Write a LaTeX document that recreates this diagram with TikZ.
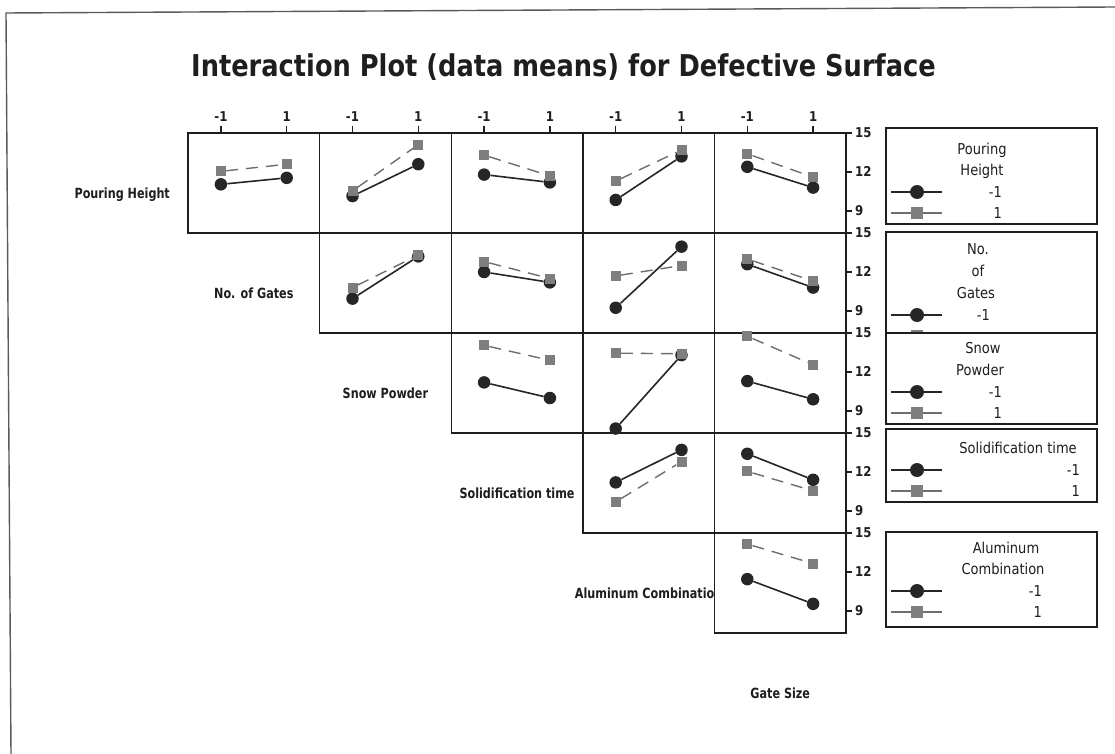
\documentclass[tikz,border=0pt]{standalone}
\usepackage{fontspec}
\newfontfamily\tfont[FakeStretch=0.8]{DejaVu Sans}
\newfontfamily\hfont[FakeStretch=0.856]{DejaVu Sans}
\newfontfamily\lfont[FakeStretch=0.87]{DejaVu Sans}
\definecolor{ink}{HTML}{1E1E1E}
\definecolor{cdark}{HTML}{262626}
\definecolor{sgray}{HTML}{7E7E7E}
\definecolor{dgray}{HTML}{6E6E6E}
\definecolor{fgray}{HTML}{5A5A5A}
\newcommand{\ipl}[6]{%
  \pgfmathsetmacro{\ipXa}{188+(#2-1)*131.6+32.9}%
  \pgfmathsetmacro{\ipXb}{188+(#2-1)*131.6+98.7}%
  \pgfmathsetmacro{\ipYt}{133+(#1-1)*100}%
  \pgfmathsetmacro{\ipYca}{\ipYt+(15-#3)*13}%
  \pgfmathsetmacro{\ipYcb}{\ipYt+(15-#4)*13}%
  \pgfmathsetmacro{\ipYsa}{\ipYt+(15-#5)*13}%
  \pgfmathsetmacro{\ipYsb}{\ipYt+(15-#6)*13}%
  \node[cmark] (c#1#2a) at (\ipXa,\ipYca) {};
  \node[cmark] (c#1#2b) at (\ipXb,\ipYcb) {};
  \draw[cline] (c#1#2a) -- (c#1#2b);
  \node[smark] (s#1#2a) at (\ipXa,\ipYsa) {};
  \node[smark] (s#1#2b) at (\ipXb,\ipYsb) {};
  \draw[sline] (s#1#2a) -- (s#1#2b);
}
% legend symbol rows: #1 name, #2 y of -1 row, #3 y of 1 row
\newcommand{\lgdsym}[3]{%
  \coordinate (#1ca) at (891,#2); \coordinate (#1cb) at (942,#2);
  \draw[cline] (#1ca) -- (#1cb);
  \node[cmarkL] (#1cm) at (917,#2) {};
  \coordinate (#1sa) at (891,#3); \coordinate (#1sb) at (942,#3);
  \draw[slineL] (#1sa) -- (#1sb);
  \node[smarkL] (#1sm) at (917,#3) {};
}
% legend value labels: #1 name, #2 y of -1 row, #3 y of 1 row, #4 right edge
\newcommand{\lgdvals}[4]{%
  \node[ltext, anchor=base east] (#1cv) at (#4,#2+5.5) {-1};
  \node[ltext, anchor=base east] (#1sv) at (#4,#3+5.5) {1};
}
\begin{document}
\begin{tikzpicture}[x=1pt,y=-1pt,
  frame/.style={draw=fgray, line width=1.4pt},
  pbox/.style={draw=ink, fill=white, line width=1.4pt, minimum width=131.6pt, minimum height=100pt, inner sep=0pt},
  lbox/.style={draw=ink, fill=white, line width=1.4pt, inner sep=0pt},
  cmark/.style={circle, fill=cdark, minimum size=12.5pt, inner sep=0pt},
  smark/.style={rectangle, fill=sgray, minimum size=10pt, inner sep=0pt},
  cmarkL/.style={circle, fill=cdark, minimum size=14pt, inner sep=0pt},
  smarkL/.style={rectangle, fill=sgray, minimum size=12pt, inner sep=0pt},
  cline/.style={draw=cdark, line width=1.6pt},
  sline/.style={draw=dgray, line width=1.4pt, dash pattern=on 12pt off 8pt},
  slineL/.style={draw=dgray, line width=1.4pt},
  rowlab/.style={font=\tfont\bfseries\fontsize{14}{16}\selectfont, anchor=base, inner sep=0pt, text=ink},
  ltext/.style={font=\lfont\fontsize{15}{18}\selectfont, inner sep=0pt, text=ink},
  ticklab/.style={font=\lfont\bfseries\fontsize{13.5}{16}\selectfont, inner sep=0pt, text=ink},
  tick/.style={draw=ink, line width=1.3pt}
]
\useasboundingbox (0,0) rectangle (1115,754);
\fill[white] (0,0) rectangle (1115,754);
% outer frame (only top and left edges visible)
\coordinate (fTL) at (6,13); \coordinate (fTR) at (1115,7); \coordinate (fBL) at (11,754);
\draw[frame] (fBL) -- (fTL) -- (fTR);
% title
\node[anchor=base west, inner sep=0pt, text=ink, font=\hfont\bfseries\fontsize{30}{36}\selectfont] (title) at (191,77) {Interaction Plot (data means) for Defective Surface};
% factor labels
\node[rowlab] (lPH) at (122.2,198) {Pouring Height};
\node[rowlab] (lNG) at (253.8,298) {No. of Gates};
\node[rowlab] (lSP) at (385.4,398) {Snow Powder};
\node[rowlab] (lST) at (517,498) {Solidification time};
\node[rowlab] (lAC) at (648.6,598) {Aluminum Combination};
\node[rowlab] (lGS) at (780.2,698) {Gate Size};
% panels
\foreach \i/\j in {1/1,1/2,1/3,1/4,1/5,2/2,2/3,2/4,2/5,3/3,3/4,3/5,4/4,4/5,5/5} {
  \node[pbox] (p\i\j) at ({188+(\j-1)*131.6+65.8},{133+(\i-1)*100+50}) {};
}
% top ticks
\foreach \j in {1,...,5} {
  \pgfmathsetmacro{\tx}{188+(\j-1)*131.6+32.9}
  \pgfmathsetmacro{\ty}{188+(\j-1)*131.6+98.7}
  \draw[tick] (\tx,133) -- (\tx,126);
  \draw[tick] (\ty,133) -- (\ty,126);
  \node[ticklab, anchor=base] (tka\j) at (\tx,121.5) {-1};
  \node[ticklab, anchor=base] (tkb\j) at (\ty,121.5) {1};
}
% right ticks
\foreach \i in {1,...,5} {
  \foreach \v in {15,12,9} {
    \pgfmathsetmacro{\yy}{133+(\i-1)*100+(15-\v)*13}
    \draw[tick] (846,\yy) -- (852,\yy);
    \node[ticklab, anchor=base west] (rt\i\v) at (855,\yy+4.9) {\v};
  }
}
% data
\ipl{1}{1}{11.05}{11.55}{12.05}{12.6}
\ipl{1}{2}{10.15}{12.6}{10.55}{14.1}
\ipl{1}{3}{11.8}{11.2}{13.3}{11.7}
\ipl{1}{4}{9.85}{13.2}{11.3}{13.7}
\ipl{1}{5}{12.4}{10.8}{13.4}{11.6}
\ipl{2}{2}{9.95}{13.2}{10.8}{13.3}
\ipl{2}{3}{12.0}{11.2}{12.8}{11.5}
\ipl{2}{4}{9.25}{13.95}{11.7}{12.5}
\ipl{2}{5}{12.6}{10.8}{13.0}{11.3}
\ipl{3}{3}{11.2}{10.0}{14.05}{12.9}
\ipl{3}{4}{7.65}{13.3}{13.45}{13.4}
\ipl{3}{5}{11.3}{9.9}{14.75}{12.55}
\ipl{4}{4}{11.2}{13.7}{9.7}{12.8}
\ipl{4}{5}{13.4}{11.4}{12.05}{10.55}
\ipl{5}{5}{11.45}{9.55}{14.15}{12.65}
% legends
\node[lbox, minimum width=211pt, minimum height=96pt] (L1) at (991.5,176) {};
\node[ltext, anchor=base] (L1t1) at (982,154.5) {Pouring};
\node[ltext, anchor=base] (L1t2) at (982,175.5) {Height};
\lgdsym{L1}{192}{213}
\lgdvals{L1}{192}{213}{1002}
\node[lbox, minimum width=211pt, minimum height=118pt] (L2) at (991.5,291) {};
\node[ltext, anchor=base] (L2t1) at (978,254.5) {No.};
\node[ltext, anchor=base] (L2t2) at (978,276.5) {of};
\node[ltext, anchor=base] (L2t3) at (976,298.5) {Gates};
\lgdsym{L2}{315}{336}
\node[ltext, anchor=base east] (L2cv) at (990,320.5) {-1};
\node[lbox, minimum width=211pt, minimum height=91pt] (L3) at (991.5,378.5) {};
\node[ltext, anchor=base] (L3t1) at (983,353.5) {Snow};
\node[ltext, anchor=base] (L3t2) at (980,375.5) {Powder};
\lgdsym{L3}{392}{413}
\lgdvals{L3}{392}{413}{1002}
\node[lbox, minimum width=211pt, minimum height=73pt] (L4) at (991.5,465.5) {};
\node[ltext, anchor=base] (L4t1) at (1018,453.5) {Solidification time};
\lgdsym{L4}{470}{491}
\lgdvals{L4}{470}{491}{1080}
\node[lbox, minimum width=211pt, minimum height=95pt] (L5) at (991.5,579.5) {};
\node[ltext, anchor=base] (L5t1) at (1006,553.5) {Aluminum};
\node[ltext, anchor=base] (L5t2) at (1003,574.5) {Combination};
\lgdsym{L5}{591}{612}
\lgdvals{L5}{591}{612}{1042}
\end{tikzpicture}
\end{document}
